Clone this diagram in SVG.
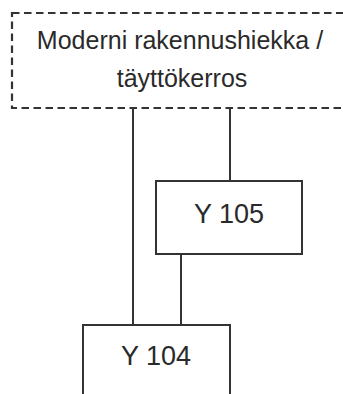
<svg xmlns="http://www.w3.org/2000/svg" width="343" height="394" viewBox="0 0 343 394">
<style>
.box{fill:#fff;stroke:#333;stroke-width:2}
.dash{fill:#fff;stroke:#333;stroke-width:2.2;stroke-dasharray:7.5 4.5}
.ln{stroke:#333;stroke-width:2;fill:none}
.t{font-family:"Liberation Sans",Arial,sans-serif;fill:#2a2a2a;text-anchor:middle}
</style>
<rect width="343" height="394" fill="#fff"/>
<g id="connectors">
<line class="ln" x1="133" y1="108" x2="133" y2="326"/>
<line class="ln" x1="230" y1="108" x2="230" y2="181"/>
<line class="ln" x1="181" y1="254" x2="181" y2="326"/>
</g>
<g id="moderni">
<rect class="dash" x="12" y="13" width="345" height="95"/>
<text class="t" x="180" y="49" font-size="25">Moderni rakennushiekka /</text>
<text class="t" x="182" y="87" font-size="25">täyttökerros</text>
</g>
<g id="y105">
<rect class="box" x="156" y="181" width="146" height="73"/>
<text class="t" x="229" y="223" font-size="27">Y 105</text>
</g>
<g id="y104">
<rect class="box" x="83" y="325" width="147" height="80"/>
<text class="t" x="156" y="365" font-size="27">Y 104</text>
</g>
</svg>
